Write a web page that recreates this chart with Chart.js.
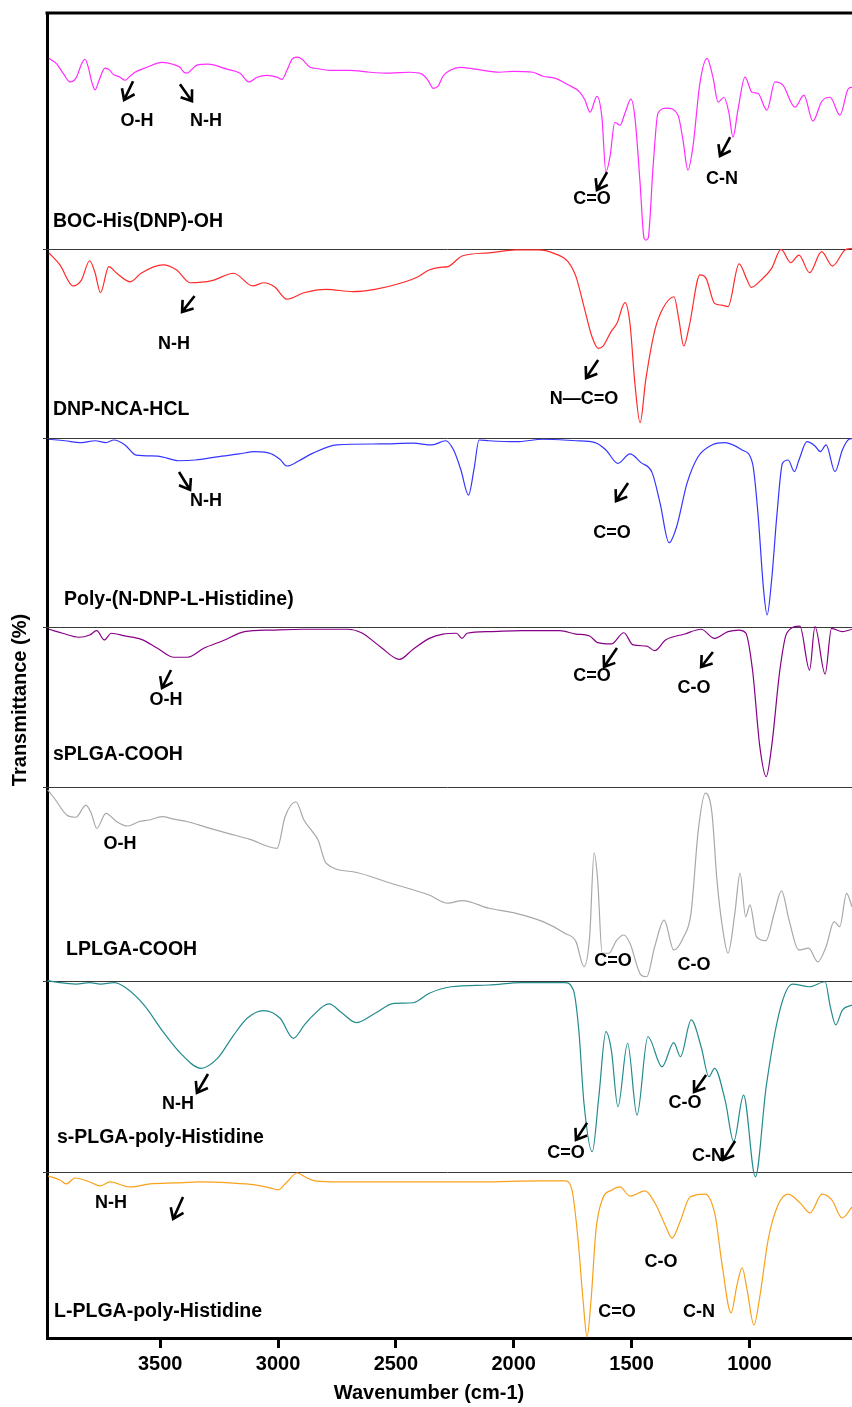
<!DOCTYPE html>
<html>
<head>
<meta charset="utf-8">
<title>FTIR spectra</title>
<script src="https://cdn.jsdelivr.net/npm/chart.js@4.4.1/dist/chart.umd.min.js"></script>
<style>
  html, body { margin: 0; padding: 0; background: #fff; overflow: hidden; }
  #wrap { position: relative; width: 852px; height: 1407px; }
</style>
</head>
<body>
<div id="wrap"><canvas id="ftir" width="852" height="1407"></canvas></div>
<script>
// ---- data: wavenumber (cm-1) and transmittance (a.u., 0-100 inside each trace's band) ----
const X_TICKS = [3500, 3000, 2500, 2000, 1500, 1000];

const SAMPLE_NAMES = [
  'BOC-His(DNP)-OH',
  'DNP-NCA-HCL',
  'Poly-(N-DNP-L-Histidine)',
  'sPLGA-COOH',
  'LPLGA-COOH',
  's-PLGA-poly-Histidine',
  'L-PLGA-poly-Histidine'
];

const BOC_HIS_DNP_OH = [[3972,80.8],[3938,78.3],[3912,74.5],[3882,70.8],[3857,72.4],[3832,78.7],[3819,80.4],[3806,77.4],[3789,70.4],[3776,67.4],[3759,71.5],[3734,76.6],[3713,75.7],[3700,74.1],[3670,72.8],[3649,71.5],[3628,73.2],[3607,74.9],[3556,77.0],[3492,79.1],[3446,78.3],[3416,77.0],[3399,74.9],[3386,74.5],[3365,76.2],[3344,77.9],[3297,78.3],[3216,76.2],[3161,74.5],[3123,70.8],[3089,72.8],[3047,73.6],[3004,72.8],[2983,71.9],[2962,75.7],[2941,80.4],[2919,81.3],[2898,80.4],[2864,77.0],[2843,76.6],[2779,75.7],[2695,75.7],[2610,74.9],[2525,74.5],[2440,74.9],[2389,74.1],[2364,71.5],[2342,68.1],[2321,69.0],[2300,73.2],[2270,75.7],[2228,77.0],[2164,76.2],[2101,75.3],[2058,74.9],[2003,75.3],[1918,74.9],[1876,73.2],[1825,72.4],[1774,69.8],[1719,66.4],[1698,63.1],[1676,58.0],[1647,64.7],[1626,55.9],[1609,32.6],[1592,38.9],[1571,53.7],[1549,52.5],[1528,57.6],[1503,63.5],[1486,55.9],[1464,27.9],[1447,4.5],[1439,3.8],[1430,4.5],[1409,34.7],[1388,57.6],[1350,59.7],[1303,56.7],[1282,46.1],[1261,33.4],[1240,43.2],[1210,70.4],[1180,80.8],[1155,72.8],[1133,62.2],[1108,64.3],[1087,57.6],[1070,47.4],[1049,58.8],[1019,72.8],[989,66.4],[964,66.0],[926,58.8],[892,70.8],[858,69.4],[807,60.1],[769,65.2],[731,54.2],[693,62.6],[658,64.3],[616,56.7],[582,67.7],[565,68.6]];

const DNP_NCA_HCL = [[3972,98.0],[3925,91.6],[3870,80.5],[3834,83.6],[3799,93.8],[3776,87.3],[3753,76.9],[3718,90.7],[3684,87.2],[3626,82.7],[3581,87.2],[3488,91.6],[3430,88.9],[3373,82.2],[3280,83.3],[3188,87.2],[3107,80.5],[3062,82.2],[3015,80.1],[2962,73.5],[2890,76.9],[2796,78.7],[2682,77.5],[2589,78.7],[2474,82.2],[2406,85.4],[2359,88.9],[2313,90.3],[2279,90.7],[2219,96.3],[2105,98.0],[1990,99.5],[1897,99.5],[1829,97.7],[1770,93.3],[1736,85.4],[1702,69.6],[1668,53.7],[1642,47.6],[1621,48.8],[1587,56.4],[1562,60.8],[1528,71.7],[1507,60.8],[1486,29.1],[1464,8.3],[1440,30.9],[1401,57.3],[1367,68.7],[1320,74.8],[1299,62.5],[1279,48.8],[1256,59.0],[1210,86.3],[1184,84.5],[1148,71.3],[1118,70.4],[1091,69.6],[1044,92.1],[1010,83.6],[993,79.8],[951,83.6],[906,89.8],[866,99.8],[825,92.8],[790,96.8],[745,87.5],[694,98.6],[648,91.0],[595,99.5],[565,100.4]];

const POLY_DNP_HIS = [[3972,99.6],[3904,98.8],[3834,97.8],[3776,98.8],[3730,97.8],[3696,99.2],[3649,96.6],[3602,91.2],[3511,90.7],[3420,88.2],[3350,88.6],[3259,90.3],[3165,91.8],[3098,93.0],[3027,91.8],[2992,89.0],[2962,85.4],[2911,88.2],[2854,92.1],[2750,96.6],[2567,97.1],[2427,97.5],[2347,96.6],[2289,98.8],[2255,93.9],[2224,83.3],[2192,70.0],[2169,83.3],[2147,99.2],[2105,98.8],[1990,98.3],[1876,99.6],[1736,98.8],[1655,97.8],[1609,93.9],[1558,86.8],[1507,91.8],[1460,87.2],[1413,81.9],[1379,65.6],[1341,44.7],[1309,53.2],[1265,76.2],[1218,90.3],[1159,96.6],[1104,97.8],[1031,93.9],[987,86.8],[964,60.3],[940,19.6],[925,6.4],[906,24.9],[883,60.3],[860,86.8],[836,88.6],[809,82.4],[790,88.6],[756,98.3],[722,96.0],[699,93.0],[675,96.6],[637,82.4],[606,93.9],[578,99.6],[565,99.9]];

const SPLGA_COOH = [[3972,98.6],[3914,96.1],[3845,93.6],[3799,95.0],[3769,97.7],[3737,91.9],[3707,96.1],[3649,94.4],[3580,92.3],[3511,86.7],[3441,81.1],[3384,81.1],[3315,86.7],[3234,91.4],[3142,97.1],[3027,98.1],[2890,98.6],[2704,98.6],[2646,96.4],[2566,87.7],[2485,79.8],[2427,86.1],[2358,92.9],[2300,95.6],[2243,96.1],[2219,92.9],[2198,96.1],[2105,97.1],[1966,97.7],[1805,97.7],[1736,95.6],[1678,94.4],[1644,90.2],[1586,89.4],[1533,96.4],[1494,88.8],[1436,88.1],[1402,85.2],[1356,91.9],[1275,95.6],[1205,98.6],[1148,92.9],[1091,97.1],[1044,98.1],[1016,96.4],[987,73.1],[956,25.2],[929,6.4],[906,25.2],[871,73.1],[842,96.1],[786,100.6],[745,73.1],[722,100.2],[679,70.6],[652,99.2],[606,97.1],[565,98.6]];

const LPLGA_COOH = [[3977,98.5],[3949,94.2],[3891,85.1],[3857,84.4],[3815,90.7],[3792,86.4],[3769,78.7],[3730,86.4],[3684,82.1],[3638,79.9],[3591,82.1],[3546,83.0],[3492,84.7],[3441,83.4],[3384,82.1],[3303,79.2],[3212,76.1],[3119,73.0],[3004,68.4],[2970,84.7],[2924,92.4],[2890,83.0],[2854,77.0],[2830,72.7],[2796,60.7],[2682,56.3],[2521,50.4],[2359,44.3],[2279,40.1],[2219,41.4],[2105,37.5],[1990,34.9],[1876,30.6],[1783,24.6],[1736,20.3],[1702,7.4],[1678,22.8],[1659,66.1],[1644,52.1],[1625,14.3],[1597,14.3],[1563,21.1],[1532,23.7],[1507,19.4],[1460,3.1],[1436,2.2],[1402,17.7],[1362,31.4],[1321,16.0],[1279,22.8],[1248,34.9],[1217,77.8],[1187,96.8],[1159,86.4],[1138,52.1],[1113,26.3],[1091,14.3],[1062,34.9],[1040,55.5],[1016,33.1],[998,39.2],[970,22.8],[930,20.8],[895,34.9],[864,46.5],[832,31.4],[791,16.0],[749,16.9],[710,9.9],[675,17.7],[641,30.6],[617,28.0],[588,45.2],[565,38.3]];

const SPLGA_POLY_HIS = [[3977,100.2],[3926,99.1],[3857,98.4],[3799,99.1],[3753,98.4],[3696,99.1],[3649,96.7],[3568,87.4],[3488,73.5],[3407,61.3],[3327,54.3],[3257,59.5],[3188,71.7],[3131,80.5],[3061,84.5],[2991,80.5],[2935,70.0],[2888,77.0],[2854,81.7],[2784,88.0],[2727,83.1],[2669,78.2],[2588,83.1],[2508,88.3],[2427,88.6],[2358,93.6],[2266,97.0],[2105,97.9],[1966,99.1],[1783,99.1],[1747,95.3],[1724,74.3],[1702,36.0],[1667,10.6],[1639,39.4],[1609,73.5],[1586,63.9],[1558,34.2],[1517,67.4],[1477,29.8],[1431,70.8],[1371,55.1],[1321,67.7],[1293,60.4],[1247,79.6],[1205,65.6],[1172,49.9],[1148,54.3],[1102,36.8],[1067,15.9],[1025,40.3],[975,-2.5],[929,44.7],[871,84.8],[818,98.4],[745,97.0],[679,99.6],[657,86.5],[634,77.0],[606,84.8],[565,87.4]];

const LPLGA_POLY_HIS = [[3976,97.6],[3925,95.2],[3899,92.8],[3861,96.4],[3798,94.0],[3755,91.6],[3713,94.0],[3628,91.0],[3543,92.8],[3437,93.4],[3331,94.0],[3204,93.4],[3098,92.2],[3034,90.4],[3000,89.2],[2962,94.0],[2919,99.4],[2885,97.0],[2843,94.6],[2737,94.0],[2482,94.0],[2143,94.0],[1888,94.6],[1782,94.6],[1753,89.2],[1727,59.0],[1706,22.9],[1689,0.6],[1672,22.9],[1651,65.1],[1625,83.1],[1583,89.2],[1549,91.0],[1507,85.5],[1443,88.6],[1401,81.3],[1358,68.1],[1328,60.2],[1295,69.9],[1252,84.9],[1189,86.7],[1146,74.1],[1116,44.0],[1078,15.1],[1053,31.9],[1031,42.2],[1010,28.9],[981,7.8],[955,25.9],[921,59.0],[879,80.1],[836,86.7],[785,81.3],[743,75.3],[692,86.7],[650,83.1],[607,72.3],[565,78.9]];

const SPECTRA = [BOC_HIS_DNP_OH, DNP_NCA_HCL, POLY_DNP_HIS, SPLGA_COOH, LPLGA_COOH, SPLGA_POLY_HIS, LPLGA_POLY_HIS];

// band assignments: trace index, text, wavenumber, transmittance
const PEAK_LABELS = [
  [0, 'O-H', 3598, 54.2], [0, 'N-H', 3305, 54.2], [0, 'C=O', 1668, 21.2], [0, 'C-N', 1116, 29.6],
  [1, 'N-H', 3441, 49.9], [1, 'N\u2014C=O', 1702, 20.8],
  [2, 'N-H', 3305, 66.8], [2, 'C=O', 1583, 49.9],
  [3, 'O-H', 3475, 54.4], [3, 'C=O', 1668, 69.4], [3, 'C-O', 1235, 61.9],
  [4, 'O-H', 3670, 70.6], [4, 'C=O', 1579, 10.3], [4, 'C-O', 1235, 8.2],
  [5, 'N-H', 3424, 35.6], [5, 'C=O', 1778, 9.9], [5, 'C-O', 1273, 36.1], [5, 'C-N', 1176, 8.4],
  [6, 'N-H', 3708, 81.3], [6, 'C-O', 1375, 45.8], [6, 'C=O', 1562, 15.7], [6, 'C-N', 1214, 15.7]
];

// arrows: trace index, tail [wn, T], head [wn, T]
const PEAK_ARROWS = [
  [0, [3615, 71.1], [3653, 63.1]], [0, [3416, 69.8], [3365, 62.6]],
  [0, [1604, 32.6], [1647, 25.0]], [0, [1082, 47.4], [1125, 39.4]],
  [1, [3354, 75.2], [3407, 66.8]], [1, [1642, 41.4], [1693, 31.9]],
  [2, [3420, 82.2], [3373, 72.7]], [2, [1515, 76.4], [1566, 66.8]],
  [3, [3454, 73.1], [3492, 61.9]], [3, [1562, 86.9], [1617, 75.0]], [3, [1155, 84.4], [1205, 75.0]],
  [5, [3297, 51.3], [3344, 41.4]], [5, [1689, 25.7], [1736, 16.8]],
  [5, [1184, 50.8], [1235, 41.9]], [5, [1061, 16.2], [1112, 6.3]],
  [6, [3403, 84.9], [3445, 71.7]]
];

// sample name anchors (left edge), [wn, T]
const NAME_ANCHORS = [[3955, 11.8], [3955, 15.0], [3908, 14.3], [3955, 20.0], [3899, 16.0], [3938, 17.8], [3950, 15.7]];

// ---- layout and style ----
const BAND_HEIGHTS = [236, 189.5, 188.5, 160, 194, 191, 166]; // top to bottom, in y-axis units
const LINE_COLORS = ['#ff2cff', '#ff2a2a', '#3535ff', '#870087', '#a8a8a8', '#238b8c', '#f9a11b'];
const FONT = '"Liberation Sans", Arial, Helvetica, sans-serif';

const TOTAL = BAND_HEIGHTS.reduce((a, b) => a + b, 0);
// bottom of each band on the shared y axis
const BAND_BASE = BAND_HEIGHTS.map((h, i) => BAND_HEIGHTS.slice(i + 1).reduce((a, b) => a + b, 0));
const toAxisY = (i, t) => BAND_BASE[i] + t / 100 * BAND_HEIGHTS[i];

const datasets = SPECTRA.map((spec, i) => ({
  label: SAMPLE_NAMES[i],
  data: spec.map(([wn, t]) => ({ x: wn, y: toAxisY(i, t) })),
  borderColor: LINE_COLORS[i],
  borderWidth: 1.2,
  pointRadius: 0,
  fill: false,
  cubicInterpolationMode: 'monotone'
}));

function drawArrow(ctx, x1, y1, x2, y2) {
  const ang = Math.atan2(y1 - y2, x1 - x2);
  const L = 12, a = 0.62;
  ctx.beginPath();
  ctx.moveTo(x1, y1);
  ctx.lineTo(x2, y2);
  ctx.moveTo(x2 + L * Math.cos(ang - a), y2 + L * Math.sin(ang - a));
  ctx.lineTo(x2, y2);
  ctx.lineTo(x2 + L * Math.cos(ang + a), y2 + L * Math.sin(ang + a));
  ctx.stroke();
}

const panelFrame = {
  id: 'panelFrame',
  beforeDatasetsDraw(chart) {
    const { ctx, chartArea: ca, scales: { y } } = chart;
    ctx.save();
    ctx.strokeStyle = '#3a3a3a';
    ctx.lineWidth = 1;
    for (let i = 0; i < BAND_BASE.length - 1; i++) {
      const py = Math.round(y.getPixelForValue(BAND_BASE[i])) + 0.5;
      ctx.beginPath();
      ctx.moveTo(ca.left - 4, py);
      ctx.lineTo(ca.right, py);
      ctx.stroke();
    }
    ctx.restore();
  },
  afterDraw(chart) {
    const { ctx, chartArea: ca, scales: { x, y } } = chart;
    ctx.save();
    // top frame line
    ctx.strokeStyle = '#000';
    ctx.lineWidth = 3;
    ctx.beginPath();
    ctx.moveTo(ca.left - 1.5, ca.top);
    ctx.lineTo(ca.right, ca.top);
    ctx.stroke();

    ctx.fillStyle = '#000';
    ctx.textBaseline = 'middle';
    // sample names
    ctx.font = 'bold 19.5px ' + FONT;
    ctx.textAlign = 'left';
    NAME_ANCHORS.forEach(([wn, t], i) => {
      ctx.fillText(SAMPLE_NAMES[i], x.getPixelForValue(wn), y.getPixelForValue(toAxisY(i, t)));
    });
    // band assignments
    ctx.font = 'bold 18px ' + FONT;
    ctx.textAlign = 'center';
    PEAK_LABELS.forEach(([i, text, wn, t]) => {
      ctx.fillText(text, x.getPixelForValue(wn), y.getPixelForValue(toAxisY(i, t)));
    });
    ctx.lineWidth = 2.6;
    ctx.lineCap = 'butt';
    ctx.lineJoin = 'miter';
    PEAK_ARROWS.forEach(([i, from, to]) => {
      drawArrow(ctx,
        x.getPixelForValue(from[0]), y.getPixelForValue(toAxisY(i, from[1])),
        x.getPixelForValue(to[0]), y.getPixelForValue(toAxisY(i, to[1])));
    });
    // axis titles
    ctx.font = 'bold 20px ' + FONT;
    ctx.fillText('Wavenumber (cm-1)', 429, 1393);
    ctx.translate(20, 700);
    ctx.rotate(-Math.PI / 2);
    ctx.fillText('Transmittance (%)', 0, 0);
    ctx.restore();
  }
};

new Chart(document.getElementById('ftir'), {
  type: 'line',
  data: { datasets },
  plugins: [panelFrame],
  options: {
    responsive: false,
    animation: false,
    devicePixelRatio: 1,
    layout: { padding: { top: 13, left: 0, right: 0, bottom: 0 } },
    plugins: { legend: { display: false }, tooltip: { enabled: false } },
    scales: {
      x: {
        type: 'linear',
        reverse: true,
        min: 565,
        max: 3980,
        afterBuildTicks: s => { s.ticks = X_TICKS.map(v => ({ value: v })); },
        afterFit: s => { s.height = 69; },
        border: { display: true, color: '#000', width: 3 },
        grid: { display: true, drawOnChartArea: false, drawTicks: true, tickLength: 10, tickWidth: 3, tickColor: '#000' },
        ticks: {
          color: '#000', padding: 4, maxRotation: 0, autoSkip: false,
          font: { family: FONT, size: 20, weight: 'bold' },
          callback: v => String(v)
        }
      },
      y: {
        type: 'linear',
        min: 0,
        max: TOTAL,
        afterFit: s => { s.width = 47; },
        border: { display: true, color: '#000', width: 3 },
        grid: { display: false },
        ticks: { display: false }
      }
    }
  }
});
</script>
</body>
</html>
